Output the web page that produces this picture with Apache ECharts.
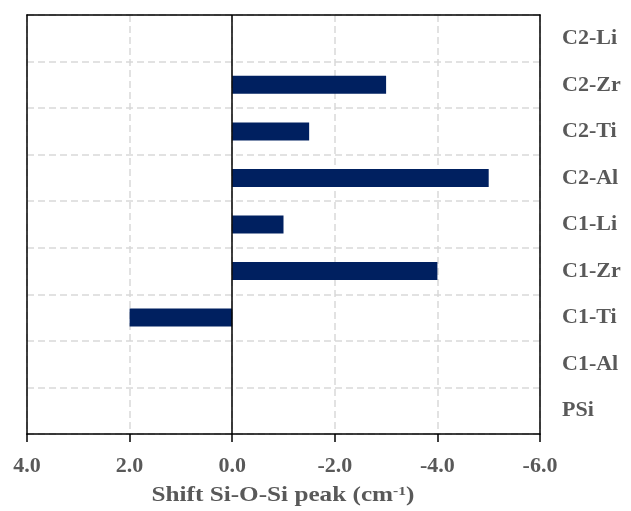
<!DOCTYPE html>
<html><head><meta charset="utf-8">
<script src="https://cdn.jsdelivr.net/npm/echarts@6/dist/echarts.min.js"></script>
<style>html,body{margin:0;padding:0;background:#fff}#c{width:631px;height:511px}</style>
</head><body><div id="c"></div>
<script>
const categories = ['PSi','C1-Al','C1-Ti','C1-Zr','C1-Li','C2-Al','C2-Ti','C2-Zr','C2-Li'];
const shiftValues = [0, 0, 2.0, -4.0, -1.0, -5.0, -1.5, -3.0, 0];
const xTicks = {min: -6, max: 4, interval: 2};
const axisTitle = 'Shift Si-O-Si peak (cm';

const chart = echarts.init(document.getElementById('c'));
const FONT = '"Liberation Serif","Times New Roman",serif';
const GRID_SPLIT = {show: true, lineStyle: {type: [7, 4], color: '#d9d9d9', width: 1.5}};
const BOX = {show: true, onZero: false, lineStyle: {color: '#000', width: 1.5}};
chart.setOption({
  animation: false,
  grid: {left: 27, right: 91, top: 15, bottom: 77, show: false},
  xAxis: [{
    type: 'value', inverse: true, min: xTicks.min, max: xTicks.max, interval: xTicks.interval,
    position: 'bottom', axisLine: BOX,
    axisTick: {show: true, inside: false, length: 8, lineStyle: {color: '#000', width: 1.5}},
    axisLabel: {margin: 21, color: '#595959', fontFamily: FONT, fontWeight: 'bold', fontSize: 22,
      formatter: v => v.toFixed(1)},
    splitLine: GRID_SPLIT
  }, {
    type: 'value', inverse: true, min: xTicks.min, max: xTicks.max, interval: xTicks.interval,
    position: 'top', axisLine: BOX, axisTick: {show: false}, axisLabel: {show: false}, splitLine: {show: false}
  }],
  yAxis: [{
    type: 'category', data: categories, position: 'right',
    axisLine: BOX, axisTick: {show: false},
    axisLabel: {margin: 22, align: 'left', color: '#595959', fontFamily: FONT, fontWeight: 'bold', fontSize: 22},
    splitLine: GRID_SPLIT
  }, {
    type: 'category', data: categories, position: 'left',
    axisLine: BOX, axisTick: {show: false}, axisLabel: {show: false}, splitLine: {show: false}
  }],
  series: [{
    type: 'bar', data: shiftValues, barWidth: 18, xAxisIndex: 0, yAxisIndex: 0,
    itemStyle: {color: '#002060'},
    markLine: {silent: true, symbol: 'none', label: {show: false},
      lineStyle: {color: '#000', type: 'solid', width: 1.5}, data: [{xAxis: 0}]}
  }],
  graphic: [{
    type: 'text', x: 283, y: 496, scaleX: 1.2,
    style: {
      text: '{a|' + axisTitle + '}{s|-1}{a|)}',
      align: 'center', verticalAlign: 'middle',
      rich: {
        a: {fontFamily: FONT, fontWeight: 'bold', fontSize: 21, fill: '#595959'},
        s: {fontFamily: FONT, fontWeight: 'bold', fontSize: 13, fill: '#595959', verticalAlign: 'top', padding: [0,0,8,0]}
      }
    }
  }]
});
</script></body></html>
